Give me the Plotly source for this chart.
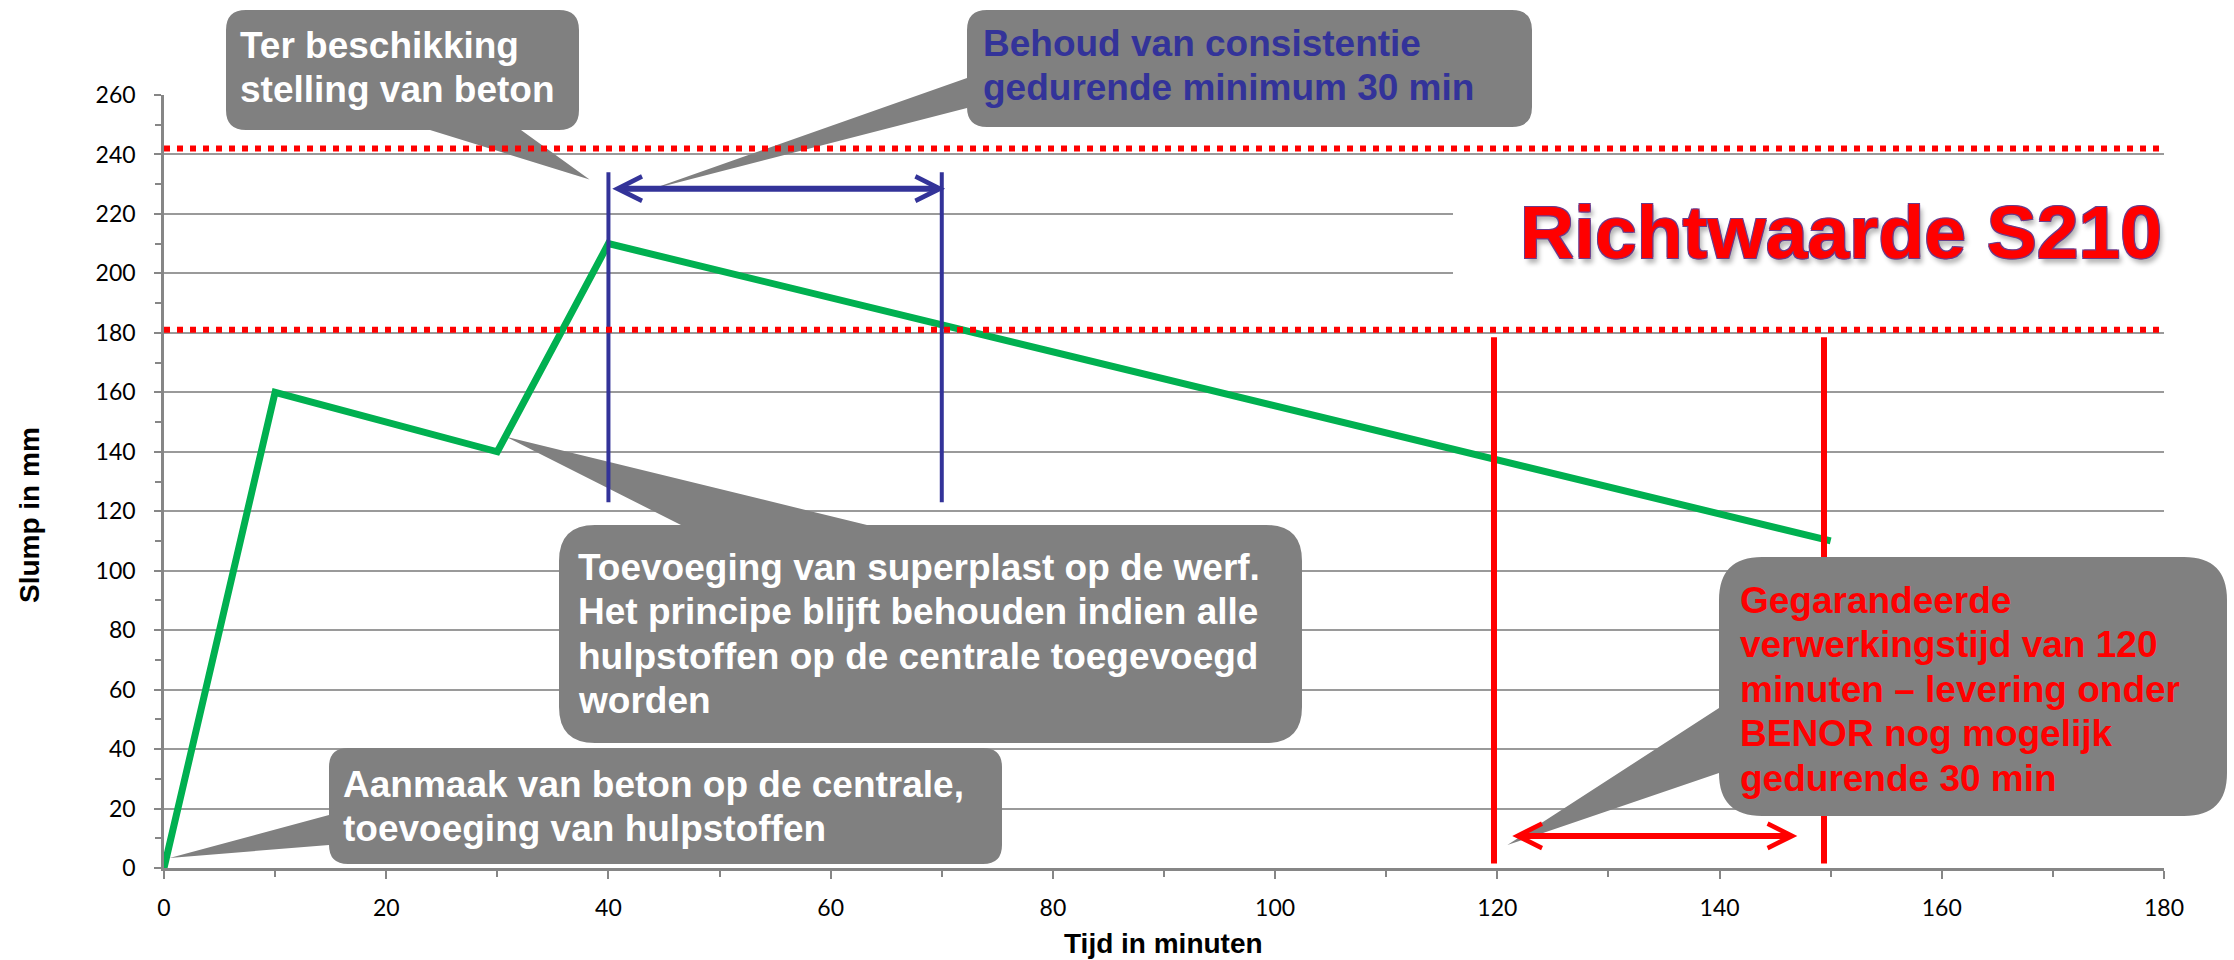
import plotly.graph_objects as go

# ---------------- data ----------------
time_min = [0, 10, 30, 40, 150]
slump_mm = [0, 160, 140, 210, 110]

limit_values = [242, 181]          # red dotted guide lines

blue_mark_x = [40, 70]             # blue vertical markers
blue_mark_y = [123, 234]
blue_arrow_x = [40.3, 70.3]
blue_arrow_y = 228.5

red_mark_x = [119.7, 149.4]        # red vertical markers
red_mark_y = [1.5, 178.5]
red_arrow_x = [121.3, 147.0]
red_arrow_y = 10.8

x_tick_vals = [0, 20, 40, 60, 80, 100, 120, 140, 160, 180]
y_tick_vals = [0, 20, 40, 60, 80, 100, 120, 140, 160, 180, 200, 220, 240, 260]
x_range = [0, 180]
y_range = [0, 260]

x_title = "Tijd in minuten"
y_title = "Slump in mm"
big_label = "Richtwaarde S210"

callout_texts = {
    "ter": ["Ter beschikking", "stelling van beton"],
    "behoud": ["Behoud van consistentie", "gedurende minimum 30 min"],
    "toev": ["Toevoeging van superplast op de werf.",
             "Het principe blijft behouden indien alle",
             "hulpstoffen op de centrale toegevoegd",
             "worden"],
    "aanmaak": ["Aanmaak van beton op de centrale,",
                "toevoeging van hulpstoffen"],
    "gegar": ["Gegarandeerde", "verwerkingstijd van 120",
              "minuten \u2013 levering onder", "BENOR nog mogelijk",
              "gedurende 30 min"],
}
# callout pointer tips, in data units (minutes, mm)
callout_tips = {
    "ter": (38.3, 231.6),
    "behoud": (43.8, 228.2),
    "toev": (30.8, 145.0),
    "aanmaak": (0.5, 3.4),
    "gegar": (120.9, 7.7),
}

# ---------------- layout geometry (pixels) ----------------
W, H = 2234, 960
L, R, T, B = 164, 2164, 95, 868

GREEN = "#00B050"
BLUE = "#333399"
RED = "#FF0000"
GRAY = "#808080"
AXIS_GRAY = "#868686"
TXT_FONT = "Liberation Sans, Arial, sans-serif"

def px_to_paper(px, py):
    return (px - L) / (R - L), (B - py) / (B - T)

def px_to_data(px, py):
    x = x_range[0] + (px - L) / (R - L) * (x_range[1] - x_range[0])
    y = y_range[0] + (B - py) / (B - T) * (y_range[1] - y_range[0])
    return x, y

def data_to_px(x, y):
    px = L + (x - x_range[0]) / (x_range[1] - x_range[0]) * (R - L)
    py = B - (y - y_range[0]) / (y_range[1] - y_range[0]) * (B - T)
    return px, py

callout_geom = [
    dict(key="ter", box=(226, 10, 579, 130), r=20, edge="bottom", base=(430, 521),
         ref="paper", layer="above", tx=239, base0=58, color="white"),
    dict(key="behoud", box=(967, 10, 1532, 127), r=20, edge="left", base=(78, 108),
         ref="paper", layer="above", tx=982, base0=56, color=BLUE),
    dict(key="toev", box=(559, 525, 1302, 743), r=36, edge="top", base=(681, 867),
         ref="data", layer="between", tx=577, base0=580, color="white"),
    dict(key="aanmaak", box=(329, 748, 1002, 864), r=19, edge="left", base=(815, 845),
         ref="data", layer="between", tx=342, base0=797, color="white"),
    dict(key="gegar", box=(1719, 557, 2227, 816), r=43, edge="left", base=(708, 773),
         ref="paper", layer="above", tx=1739, base0=613, color=RED),
]
LINE_STEP = 44.6
TXT_SIZE = 37


def callout_path(g):
    conv = px_to_paper if g["ref"] == "paper" else px_to_data

    def P(px, py):
        a, b = conv(px, py)
        return f"{a:.6f},{b:.6f}"

    x0, y0, x1, y1 = g["box"]
    r = g["r"]
    b0, b1 = g["base"]
    tx, ty = data_to_px(*callout_tips[g["key"]])
    c = [f"M{P(x0 + r, y0)}"]
    if g["edge"] == "top":
        c += [f"L{P(b0, y0)}", f"L{P(tx, ty)}", f"L{P(b1, y0)}"]
    c += [f"L{P(x1 - r, y0)}", f"Q{P(x1, y0)} {P(x1, y0 + r)}",
          f"L{P(x1, y1 - r)}", f"Q{P(x1, y1)} {P(x1 - r, y1)}"]
    if g["edge"] == "bottom":
        c += [f"L{P(b1, y1)}", f"L{P(tx, ty)}", f"L{P(b0, y1)}"]
    c += [f"L{P(x0 + r, y1)}", f"Q{P(x0, y1)} {P(x0, y1 - r)}"]
    if g["edge"] == "left":
        c += [f"L{P(x0, b1)}", f"L{P(tx, ty)}", f"L{P(x0, b0)}"]
    c += [f"L{P(x0, y0 + r)}", f"Q{P(x0, y0)} {P(x0 + r, y0)}", "Z"]
    ref = "paper" if g["ref"] == "paper" else None
    return dict(type="path", path=" ".join(c),
                xref=ref or "x", yref=ref or "y",
                fillcolor=GRAY, line=dict(width=0, color="rgba(0,0,0,0)"),
                layer=g["layer"])


fig = go.Figure()

# green slump curve
fig.add_trace(go.Scatter(x=time_min, y=slump_mm, mode="lines",
                         line=dict(color=GREEN, width=7), hoverinfo="skip",
                         showlegend=False))

def vertical_pairs(xs, ys):
    vx, vy = [], []
    for xv in xs:
        vx += [xv, xv, None]
        vy += [ys[0], ys[1], None]
    return vx, vy

bx, by = vertical_pairs(blue_mark_x, blue_mark_y)
fig.add_trace(go.Scatter(x=bx, y=by, mode="lines", line=dict(color=BLUE, width=4),
                         hoverinfo="skip", showlegend=False))
rx, ry = vertical_pairs(red_mark_x, red_mark_y)
fig.add_trace(go.Scatter(x=rx, y=ry, mode="lines", line=dict(color=RED, width=6),
                         hoverinfo="skip", showlegend=False))

shapes = []
# white background of the "Richtwaarde" word-art box (hides gridlines)
wx0, wy1 = px_to_data(1453, 175)
wx1, wy0 = px_to_data(2170, 300)
shapes.append(dict(type="rect", xref="x", yref="y", x0=wx0, x1=wx1, y0=wy0, y1=wy1,
                   fillcolor="white", line=dict(width=0), layer="between"))
for g in callout_geom:
    shapes.append(callout_path(g))
for v in limit_values:
    shapes.append(dict(type="line", xref="x domain", yref="y", x0=0, x1=1, y0=v, y1=v,
                       line=dict(color=RED, width=6, dash="6px,7px"), layer="above"))

annotations = []
# callout texts
for g in callout_geom:
    for i, line in enumerate(callout_texts[g["key"]]):
        baseline = g["base0"] + i * LINE_STEP
        ax_, ay_ = px_to_paper(g["tx"], baseline - 0.35 * TXT_SIZE)
        annotations.append(dict(
            xref="paper", yref="paper", x=ax_, y=ay_, xanchor="left", yanchor="middle",
            text=f"<b>{line}</b>", showarrow=False, borderpad=0,
            font=dict(family=TXT_FONT, size=TXT_SIZE, color=g["color"])))

# double-headed arrows
for xs, yv, col in [(blue_arrow_x, blue_arrow_y, BLUE), (red_arrow_x, red_arrow_y, RED)]:
    annotations.append(dict(
        xref="x", yref="y", axref="x", ayref="y", x=xs[1], y=yv, ax=xs[0], ay=yv,
        text="", showarrow=True, arrowside="end+start", arrowhead=5, startarrowhead=5,
        arrowwidth=6, arrowsize=0.8, startarrowsize=0.8, arrowcolor=col,
        standoff=0, startstandoff=0, borderpad=0))

# word-art label
OUT = "#6a3d8c"
bxp, byp = px_to_paper(1519, 258 - 0.35 * 75)
annotations.append(dict(
    xref="paper", yref="paper", x=bxp, y=byp, xanchor="left", yanchor="middle",
    text=f"<b>{big_label}</b>", showarrow=False, borderpad=0,
    font=dict(family=TXT_FONT, size=75, color=RED,
              shadow=f"-1px -1px 0 {OUT}, 1px -1px 0 {OUT}, -1px 1px 0 {OUT}, "
                     f"1px 1px 0 {OUT}, 3px 5px 5px rgba(0,0,0,0.3)")))

# axis titles
xtx, xty = px_to_paper(1163, 943)
annotations.append(dict(xref="paper", yref="paper", x=xtx, y=xty, xanchor="center",
                        yanchor="middle", text=f"<b>{x_title}</b>", showarrow=False,
                        font=dict(family=TXT_FONT, size=28, color="black")))
ytx, yty = px_to_paper(29, 515)
annotations.append(dict(xref="paper", yref="paper", x=ytx, y=yty, xanchor="center",
                        yanchor="middle", text=f"<b>{y_title}</b>", textangle=-90,
                        showarrow=False,
                        font=dict(family=TXT_FONT, size=28, color="black")))

fig.update_layout(
    width=W, height=H,
    margin=dict(l=L, r=W - R, t=T, b=H - B),
    paper_bgcolor="white", plot_bgcolor="white",
    showlegend=False,
    shapes=shapes, annotations=annotations,
    xaxis=dict(range=x_range, tickvals=x_tick_vals, showgrid=False, zeroline=False,
               showline=True, linecolor=AXIS_GRAY, linewidth=2.5,
               ticks="outside", ticklen=8, tickwidth=2, tickcolor=AXIS_GRAY,
               minor=dict(dtick=10, tick0=0, ticks="outside", ticklen=6, tickwidth=2,
                          tickcolor=AXIS_GRAY, showgrid=False),
               tickfont=dict(family="Lato", size=23, color="black"),
               ticklabelstandoff=10),
    yaxis=dict(range=y_range, tickvals=y_tick_vals, showgrid=True, gridcolor="#9a9a9a",
               gridwidth=1.5, zeroline=False,
               showline=True, linecolor=AXIS_GRAY, linewidth=2.5,
               ticks="outside", ticklen=7, tickwidth=2, tickcolor=AXIS_GRAY,
               minor=dict(dtick=10, tick0=0, ticks="outside", ticklen=6, tickwidth=2,
                          tickcolor=AXIS_GRAY, showgrid=False),
               tickfont=dict(family="Lato", size=23, color="black"),
               ticklabelstandoff=14),
)

fig.write_html(
    "out.html",
    config={"displayModeBar": False},
    post_script="document.body.style.margin='0px';document.body.style.overflow='hidden';",
)
